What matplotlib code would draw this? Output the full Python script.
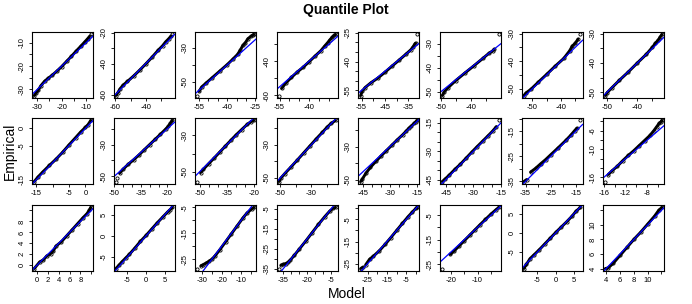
import numpy as np
import matplotlib.pyplot as plt
from matplotlib.ticker import MultipleLocator, FuncFormatter

plt.rcParams['font.family'] = ['Liberation Sans', 'DejaVu Sans']

nan = np.nan

# quantile pairs (model, empirical), nan = gap between points
model = [
    [-31.2, -30.5, -29.5, -28.5, -27, -25.5, -24, -22, -20, -18, -16, -14, -12, -10.5, -9.3, -8.6, nan, -8.1],
    [-59.6, -58.5, -57, -55, -52, -48, -44, -40, -36, -32, -29, -27, -25, -23.5, nan, -22.6],
    [-55.7, nan, -54.8, -53.5, -51, -48, -44, -40, -37, -34.5, -33, -31.7, -30.3, -29, -27.5, -26.4, -25.8],
    [-55.3, nan, -54, -52, -49, -46, -43, -40, -37, -34, -32, -30.5, -29.5, -28.2, -27.2, -26.5],
    [-55.4, -54.8, -53.5, -51, -48, -45, -42, -39, -36, -34, -33, -32.3, -32, nan, -31.3],
    [-49.45, -48.8, -47.5, -45, -42, -39, -36, -34, -32.8, -32.2, nan, -30.75],
    [-53, -52.2, -50.5, -48, -45, -42, -39, -37, -36, -35, -34, nan, -33.2],
    [-50.55, -50, -48.5, -46, -43, -40, -37, -35, -34, -33, -32.4, -31.85],
    [-15.6, -14.5, -13, -11, -9, -7, -5, -3, -1.5, 0, 0.8, 1.6],
    [-49.1, nan, -48.2, nan, -47, -45, -42, -39, -36, -33, -30, -27, -24, -21, -19.5, -18.3, -17.2],
    [-51.2, nan, -49.5, -48, -45, -42, -39, -36, -33, -30, -27, -24, -22, -20.3],
    [-50.66, -49.5, -47, -43, -39, -35, -31, -27, -23, -20, -17.5, -14.64],
    [-46.5, -45.5, -43.5, -41, -38, -35, -32, -29, -26, -23, -21, -19.5, -18, -16.5, -15.5, -14.8],
    [-46.9, -45.5, -43, -40, -37, -34, -31, -28, -25, -22, -19.5, -17.5, nan, -16.2],
    [-35.7, -34.6, nan, -33, -31, -29, -27, -25, -22, -19, -17, -15.5, -14.6, nan, -13.2],
    [-15.7, nan, -15.2, -14.5, -13.5, -12.5, -11.5, -10.5, -9.5, -8.5, -7.5, -6.8, -6.3, -5.8, -5.5, -5.3],
    [-0.49, 0.5, 1.2, 1.8, 2.5, 3, 3.5, 4.5, 5.5, 6.5, 7.5, 8.5, 9.2, 9.6, 9.9],
    [-8.14, -7.3, -6.5, -5.5, -4.5, -3, -1.5, 0, 1.5, 3, 4.5, 5.8, 6.5, 7.1],
    [-32.4, nan, -30.6, -29.5, -28, -26.5, -25, -23.5, -21, -18, -15, -12, -9, -7, -4.5, -3.5],
    [-37.6, nan, -36.3, -35, -33.5, -32, -30.5, -28, -25, -21, -17, -13, -9, -6, -4, -2.3],
    [-28.6, -27.5, nan, -26, -24, -22, -19, -16, -13, -10, -7, -4, -2, 0, 0.6],
    [-23.3, nan, -20.3, -19, -17, -15, -13, -11, -9, -7, -5, -3, -2],
    [-8.7, -8, -7, -6, -4.5, -3, -1.5, 0, 1.5, 3, 4.5, 5.5, 6.7],
    [3.9, 4.3, 5, 6, 7, 8, 9, 10, 11, 11.6, 12.07],
]
empirical = [
    [-32.6, -31.6, -30.2, -28.4, -26.5, -25.2, -24, -22.2, -20.2, -18, -15.8, -13.5, -11.3, -9.6, -8.2, -7.3, nan, -6.45],
    [-60.6, -59, -56.5, -54, -51.5, -48, -44.2, -40.2, -36, -31.5, -28.5, -26, -24, -22.3, nan, -21.2],
    [-58, nan, -55.5, -53, -50.5, -47.6, -43.7, -39.8, -36.6, -33.8, -31.2, -28.5, -26.8, -24.5, -23.2, -22.3, -22],
    [-60.2, nan, -56, -53, -49.5, -46.3, -43.5, -40.3, -37, -33.8, -31, -29, -27.5, -25.8, -24.7, -24.2],
    [-57.7, -55.5, -53.5, -51, -48.5, -45.5, -42.3, -39.2, -36, -33.8, -32.2, -30.8, -30.3, nan, -25.8],
    [-51.5, -50, -48.2, -45.3, -42.2, -39.2, -36.1, -34, -33, -32.3, nan, -26.2],
    [-52.5, -51.5, -50.2, -47.7, -44.8, -41.8, -39, -36.3, -34.5, -33.5, -32, nan, -30.3],
    [-51.2, -50.2, -48.6, -46, -43.1, -40, -37, -34.6, -33.2, -32, -31, -30.2],
    [-15.5, -14.2, -12.7, -10.8, -9, -7, -4.8, -2.7, -1.1, 0.3, 1.1, 2.3],
    [-53.3, nan, -51.2, nan, -48, -45.5, -42.3, -39.5, -36.5, -33.2, -30, -26.8, -23.6, -20.3, -18.5, -16.5, -14.8],
    [-55.4, nan, -50.5, -48.7, -45.5, -42.4, -39.2, -36, -32.8, -29.7, -26.8, -24, -22.5, -21.8],
    [-52.1, -50, -47.3, -43.3, -39.2, -35, -30.8, -26.6, -22.6, -19.5, -17.3, -15.5],
    [-51.1, -49.5, -46, -42.5, -39, -35.6, -32.4, -29.2, -26, -23, -20.8, -19, -17.6, -16, -15, -14.3],
    [-46, -44.8, -42.5, -39.5, -36.8, -33.7, -30.6, -27.6, -24.7, -21.8, -19.3, -17, nan, -13.7],
    [-35.1, -34.3, nan, -31.3, -29.8, -28, -26.3, -24.4, -21.6, -18.7, -16.6, -14.8, -13.8, nan, -10.7],
    [-16.9, nan, -15.4, -14.6, -13.6, -12.4, -11.3, -10.3, -9.2, -8.1, -7, -6, -5.2, -4.4, -4.1, -3.8],
    [-0.6, 0.6, 1.0, 1.7, 2.1, 2.6, 3.5, 4.3, 5.4, 6.5, 7.6, 8.7, 9.4, 10, 10.55],
    [-7.8, -7.0, -6.2, -5.3, -4.4, -2.9, -1.3, 0.1, 1.6, 3.1, 4.5, 5.7, 6.3, 6.8],
    [-28.6, nan, -27.5, -27.1, -26.5, -25.8, -25, -23.8, -21.4, -18.3, -15.2, -12.1, -9, -7.2, -5.6, -5.1],
    [-34.9, nan, -33.2, -32.8, -32.4, -31.8, -30.6, -28.2, -25.2, -21.2, -17, -12.8, -8.9, -6.2, -4.8, -4.3],
    [-27.2, -26.6, nan, -25.5, -23, -21.6, -19.2, -16.3, -13.2, -10, -6.8, -3.7, -1.8, 0, 0.4],
    [-26.8, nan, -21, -19.8, -17.6, -15.4, -13.2, -11, -8.8, -6.7, -4.6, -2.7, -1.8],
    [-9.3, -8.2, -6.7, -5.8, -4.4, -2.9, -1.4, 0.1, 1.5, 2.9, 4.4, 5.6, 6.6],
    [4.0, 4.1, 4.7, 5.8, 6.9, 8, 9, 10.1, 11.2, 12, 12.4],
]

# tick spacing and the tick labels R actually printed
x_step = [5, 10, 5, 5, 5, 5, 5, 5,
          5, 5, 5, 10, 5, 5, 5, 2,
          2, 5, 5, 5, 5, 5, 5, 2]
x_labels = [[-30, -20, -10], [-60, -40], [-55, -40, -25], [-55, -40], [-55, -45, -35], [-50, -40], [-50, -40], [-50, -40],
            [-15, -5, 0], [-50, -35, -20], [-50, -35, -20], [-50, -30], [-45, -30, -15], [-45, -30, -15], [-35, -25, -15], [-16, -12, -8],
            [0, 2, 4, 6, 8], [-5, 0, 5], [-30, -20, -10], [-35, -20, -5], [-25, -15, -5], [-20, -10], [-5, 0, 5], [4, 6, 8, 10]]
y_step = [5, 10, 10, 10, 5, 5, 5, 5,
          5, 10, 10, 10, 10, 5, 5, 2,
          2, 5, 5, 5, 5, 5, 5, 2]
y_labels = [[-30, -20, -10], [-60, -40, -20], [-50, -30], [-60, -40], [-55, -40, -25], [-50, -40, -30], [-50, -40, -30], [-50, -40, -30],
            [-15, -5, 0], [-50, -30], [-50, -30], [-50, -30], [-50, -30], [-45, -30, -15], [-35, -25, -15], [-16, -10, -6],
            [0, 2, 4, 6, 8], [-5, 0, 5], [-25, -15, -5], [-35, -25, -15, -5], [-25, -15, -5], [-25, -15, -5], [-5, 0, 5], [4, 6, 8, 10]]


def shown(labels):
    return FuncFormatter(lambda v, pos: f"{v:g}" if any(abs(v - l) < 1e-6 for l in labels) else "")


def padded(v):
    lo, hi = np.nanmin(v), np.nanmax(v)
    d = 0.04 * (hi - lo)
    return lo - d, hi + d


W, H = 692, 304
fig = plt.figure(figsize=(W / 100, H / 100), dpi=100)
tops = [32, 118, 205]

for i in range(24):
    r, c = divmod(i, 8)
    ax = fig.add_axes([(32 + c * 81.6) / W, 1 - (tops[r] + 66) / H, 61 / W, 66 / H])
    x = np.array(model[i])
    y = np.array(empirical[i])
    ax.plot(x, y, color='black', lw=2.1, solid_capstyle='round')
    ax.plot(x, y, ls='none', marker='o', ms=2.3, mfc='none', mec='black', mew=0.6)
    ax.axline((0, 0), slope=1, color='blue', lw=0.9)
    ax.set_xlim(padded(x))
    ax.set_ylim(padded(y))
    ax.xaxis.set_major_locator(MultipleLocator(x_step[i]))
    ax.yaxis.set_major_locator(MultipleLocator(y_step[i]))
    ax.xaxis.set_major_formatter(shown(x_labels[i]))
    ax.yaxis.set_major_formatter(shown(y_labels[i]))
    ax.tick_params(direction='out', length=2.5, width=0.6, pad=2, labelsize=5.5)
    ax.tick_params(axis='y', labelrotation=90)
    for lbl in ax.get_yticklabels():
        lbl.set_va('center')
    for s in ax.spines.values():
        s.set_linewidth(0.8)

fig.text(0.5, 1 - 10 / H, 'Quantile Plot', ha='center', va='center', fontsize=10, fontweight='bold')
fig.text(10 / W, 1 - 151 / H, 'Empirical', ha='center', va='center', rotation=90, fontsize=10)
fig.text(347 / W, 1 - 294 / H, 'Model', ha='center', va='center', fontsize=10)

plt.savefig('out.png', dpi=100)
